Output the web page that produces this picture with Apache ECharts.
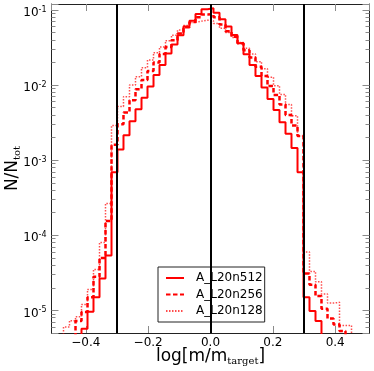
<!DOCTYPE html>
<html>
<head>
<meta charset="utf-8">
<title>N/Ntot histogram</title>
<script src="https://cdn.jsdelivr.net/npm/echarts@6/dist/echarts.min.js"></script>
<style>
    html, body { margin: 0; padding: 0; background: #fff; }
    #main { width: 374px; height: 371px; }
</style>
</head>
<body>
<div id="main"></div>
<script>
// histogram bin edges (53 bins between -0.51 and 0.51)
var binEdges = [-0.5100, -0.4908, -0.4715, -0.4523, -0.4330, -0.4138, -0.3945, -0.3753, -0.3560,
    -0.3368, -0.3175, -0.2983, -0.2791, -0.2598, -0.2406, -0.2213, -0.2021, -0.1828, -0.1636,
    -0.1443, -0.1251, -0.1058, -0.0866, -0.0674, -0.0481, -0.0289, -0.0096, 0.0096, 0.0289,
    0.0481, 0.0674, 0.0866, 0.1058, 0.1251, 0.1443, 0.1636, 0.1828, 0.2021, 0.2213, 0.2406,
    0.2598, 0.2791, 0.2983, 0.3175, 0.3368, 0.3560, 0.3753, 0.3945, 0.4138, 0.4330, 0.4523,
    0.4715, 0.4908, 0.5100];

var seriesNames = ['A_L20n512', 'A_L20n256', 'A_L20n128'];

// N/Ntot per bin
var fracN512 = [0, 0, 0, 0, 0,
    5.7e-6, 9.6e-6, 1.5e-5, 2.65e-5, 5.4e-5,
    6.9e-4, 1.39e-3, 2.15e-3, 3.3e-3, 4.75e-3,
    6.8e-3, 9.6e-3, 1.36e-2, 1.85e-2, 2.64e-2,
    3.48e-2, 4.6e-2, 6.0e-2, 7.2e-2, 8.8e-2,
    0.102, 0.105, 0.092, 0.075, 0.060,
    0.0465, 0.036, 0.0258, 0.0185, 0.0132,
    9.3e-3, 6.5e-3, 4.65e-3, 3.2e-3, 2.25e-3,
    1.45e-3, 6.9e-4, 1.5e-5, 9.8e-6, 7.2e-6,
    0, 0, 0, 0, 0,
    0, 0, 0];
var fracN256 = [0, 0, 0, 0, 7.2e-6,
    9.5e-6, 1.5e-5, 2.8e-5, 5.0e-5, 1.55e-4,
    1.6e-3, 3.0e-3, 4.3e-3, 6.3e-3, 8.8e-3,
    1.17e-2, 1.54e-2, 2.0e-2, 2.6e-2, 3.2e-2,
    3.95e-2, 4.85e-2, 5.9e-2, 6.9e-2, 8.0e-2,
    0.087, 0.088, 0.080, 0.064, 0.052,
    0.044, 0.036, 0.029, 0.0232, 0.0175,
    0.0132, 9.7e-3, 7.4e-3, 5.5e-3, 4.0e-3,
    2.9e-3, 2.1e-3, 3.1e-5, 2.2e-5, 1.55e-5,
    1.05e-5, 7.8e-6, 6.5e-6, 5.3e-6, 0,
    0, 0, 0];
var fracN128 = [0, 0, 6.0e-6, 7.3e-6, 8.2e-6,
    1.2e-5, 1.9e-5, 3.5e-5, 8.0e-5, 2.65e-4,
    2.9e-3, 5.2e-3, 7.0e-3, 1.0e-2, 1.29e-2,
    1.7e-2, 2.15e-2, 2.7e-2, 3.2e-2, 3.9e-2,
    4.6e-2, 5.4e-2, 6.2e-2, 6.8e-2, 7.1e-2,
    7.3e-2, 7.2e-2, 0.066, 0.057, 0.050,
    0.043, 0.037, 0.031, 0.026, 0.0205,
    0.0165, 0.0127, 9.8e-3, 7.5e-3, 5.5e-3,
    3.9e-3, 2.1e-3, 6.0e-5, 3.3e-5, 2.4e-5,
    1.65e-5, 1.25e-5, 1.28e-5, 6.3e-6, 6.3e-6,
    0, 0, 0];

var refLines = [-0.3, 0, 0.3];
var xMin = -0.51, xMax = 0.51;
var yMin = 5e-6, yMax = 0.12;

var font = 'DejaVu Sans';
var axisCol = '#222';
var tickCol = '#8a8a8a';
var red = '#ff0000';

// empty bins drop below the axis bottom (log scale cannot show 0)
function stepData(vals) {
    var out = [];
    var floor = 1e-7;
    for (var i = 0; i < vals.length; i++) {
        out.push([binEdges[i], vals[i] > 0 ? vals[i] : floor]);
    }
    var last = vals[vals.length - 1];
    out.push([binEdges[vals.length], last > 0 ? last : floor]);
    return out;
}

function xLabel(v) {
    if (Math.abs(v * 5 - Math.round(v * 5)) > 1e-6) return '';
    var s = Math.abs(v).toFixed(1);
    return (v < -1e-9 ? '\u2212' : '') + s;
}

function powLabel(v) {
    var e = Math.log(v) / Math.LN10;
    var r = Math.round(e);
    if (Math.abs(e - r) > 1e-6) return '';
    return '{b|10}{e|' + r + '}';
}

function baseAxis(extra) {
    var o = {
        axisLine: {show: true, onZero: false, lineStyle: {color: axisCol, width: 1}},
        axisTick: {show: true, inside: true, length: 7, lineStyle: {color: tickCol, width: 1}},
        splitLine: {show: false}
    };
    for (var k in extra) o[k] = extra[k];
    return o;
}

var myChart = echarts.init(document.getElementById('main'), null, {renderer: 'canvas'});

var option = {
    animation: false,
    backgroundColor: '#fff',
    grid: {left: 51.5, right: 4.5, top: 4, bottom: 38, containLabel: false, outerBoundsMode: 'none'},
    legend: {
        orient: 'vertical',
        left: 158,
        top: 267,
        data: seriesNames,
        itemWidth: 18,
        itemHeight: 12,
        itemGap: 4.5,
        padding: [5, 2, 5, 7],
        backgroundColor: '#fff',
        borderColor: axisCol,
        borderWidth: 1,
        borderRadius: 0,
        selectedMode: false,
        itemStyle: {opacity: 0},
        textStyle: {fontFamily: font, fontSize: 12, color: '#000', padding: [0, 0, 0, 7]}
    },
    xAxis: [
        baseAxis({
            type: 'value', min: xMin, max: xMax, position: 'bottom',
            axisLabel: {
                margin: 4, showMinLabel: false, showMaxLabel: false, formatter: xLabel,
                color: '#000', fontFamily: font, fontSize: 12
            },
            name: '{a|log[m/m}{s|target}{a|]}',
            nameLocation: 'middle',
            nameGap: 14,
            nameMoveOverlap: false,
            nameTextStyle: {
                rich: {
                    a: {fontFamily: font, fontSize: 17, color: '#000'},
                    s: {fontFamily: 'DejaVu Serif', fontSize: 10, color: '#000', padding: [9, 0, 0, 0]}
                }
            }
        }),
        baseAxis({
            type: 'value', min: xMin, max: xMax, position: 'top',
            axisLabel: {show: false}
        })
    ],
    yAxis: [
        baseAxis({
            type: 'log', logBase: 10, min: yMin, max: yMax, position: 'left',
            minorTick: {show: true, splitNumber: 9, length: 4, lineStyle: {color: tickCol, width: 1}},
            axisLabel: {
                margin: 5, showMinLabel: false, showMaxLabel: false, formatter: powLabel,
                rich: {
                    b: {fontFamily: font, fontSize: 12, color: '#000', padding: [6, 0, 0, 0]},
                    e: {fontFamily: font, fontSize: 8, color: '#000'}
                }
            },
            name: '{a|N/N}{s|tot}',
            nameLocation: 'middle',
            nameRotate: 90,
            nameGap: 29,
            nameMoveOverlap: false,
            nameTextStyle: {
                rich: {
                    a: {fontFamily: font, fontSize: 17, color: '#000'},
                    s: {fontFamily: 'DejaVu Serif', fontSize: 10, color: '#000', padding: [9, 0, 0, 0]}
                }
            }
        }),
        baseAxis({
            type: 'log', logBase: 10, min: yMin, max: yMax, position: 'right',
            minorTick: {show: true, splitNumber: 9, length: 4, lineStyle: {color: tickCol, width: 1}},
            axisLabel: {show: false}
        })
    ],
    series: [
        {
            name: seriesNames[0],
            type: 'line',
            step: 'end',
            symbol: 'none',
            data: stepData(fracN512),
            itemStyle: {color: red},
            lineStyle: {color: red, width: 2, type: 'solid'},
            z: 4,
            markLine: {
                silent: true,
                symbol: ['none', 'none'],
                label: {show: false},
                lineStyle: {color: '#000', width: 2, type: 'solid'},
                data: refLines.map(function (v) { return {xAxis: v}; })
            }
        },
        {
            name: seriesNames[1],
            type: 'line',
            step: 'end',
            symbol: 'none',
            data: stepData(fracN256),
            itemStyle: {color: red},
            lineStyle: {color: red, width: 2.5, type: [4.5, 2.5]},
            z: 3
        },
        {
            name: seriesNames[2],
            type: 'line',
            step: 'end',
            symbol: 'none',
            data: stepData(fracN128),
            itemStyle: {color: red},
            lineStyle: {color: red, width: 1.5, type: [1.5, 1.5], opacity: 0.7},
            z: 2
        }
    ]
};
myChart.setOption(option);
</script>
</body>
</html>
